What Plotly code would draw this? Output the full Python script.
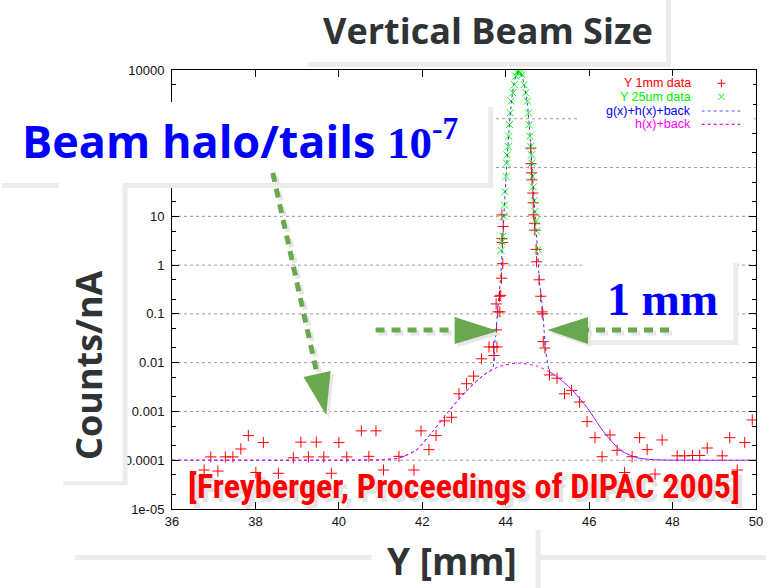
import plotly.graph_objects as go

# ---------------- data ----------------
# Y 1mm data (red +)
red_x = [36.77, 36.93, 37.10, 37.28, 37.46, 37.65, 37.83, 38.01, 38.19, 38.55,
         38.91, 39.09, 39.27, 39.46, 39.64, 39.82, 40.00, 40.19, 40.54, 40.72,
         40.89, 41.07, 41.44, 41.80, 41.97, 42.16, 42.33, 42.53, 42.70, 42.88,
         43.06, 43.23, 43.42, 43.60, 43.72, 43.71, 43.79, 43.78, 43.77, 43.81,
         43.86, 43.85, 43.88, 43.90, 43.93, 43.92, 43.91, 43.94, 43.91,
         44.60, 44.61, 44.62, 44.63, 44.65, 44.66, 44.67, 44.69, 44.70, 44.73,
         44.74, 44.80, 44.84, 44.87, 44.89, 44.90, 44.94, 45.05, 45.23, 45.41,
         45.58, 45.77, 45.95, 46.14, 46.31, 46.50, 46.67, 46.85, 47.03, 47.21,
         47.39, 47.58, 47.75, 48.11, 48.29, 48.48, 48.65, 48.83, 49.19, 49.37,
         49.55, 49.73, 49.91]
red_y = [6.3e-5, 1.17e-4, 6.0e-5, 1.17e-4, 1.17e-4, 1.7e-4, 3.2e-4, 5.6e-5, 2.3e-4, 5.4e-5,
         1.12e-4, 2.35e-4, 1.17e-4, 2.35e-4, 1.17e-4, 5.4e-5, 2.3e-4, 1.17e-4, 4.0e-4, 1.2e-4,
         4.0e-4, 6.3e-5, 1.2e-4, 6.3e-5, 4.0e-4, 1.65e-4, 3.2e-4, 6.4e-4, 7.6e-4, 2.3e-3,
         3.7e-3, 5.3e-3, 1.2e-2, 2.1e-2, 1.4e-2, 2.1e-2, 2.1e-2, 4.7e-2, 0.16, 0.11,
         0.11, 0.23, 0.24, 0.54, 1.07, 2.9, 3.5, 6.2, 10.7,
         250, 120, 78, 56, 30, 19, 10.7, 7.2, 5.2, 2.1,
         1.17, 0.5, 0.23, 0.11, 0.10, 0.027, 0.020, 5.6e-3, 4.8e-3, 2.3e-3,
         2.7e-3, 1.56e-3, 6.2e-4, 2.9e-4, 1.18e-4, 3.3e-4, 1.6e-4, 5.6e-5, 1.18e-4, 2.9e-4,
         1.65e-4, 5.2e-5, 2.6e-4, 1.23e-4, 1.23e-4, 1.25e-4, 1.25e-4, 1.78e-4, 1.23e-4, 2.9e-4,
         6.3e-5, 2.3e-4, 6.7e-4]

# Y 25um data (green x)
green_x = [43.89, 43.91, 43.93, 43.95, 43.97, 43.98, 44.01, 44.02, 44.03, 44.06,
           44.07, 44.09, 44.11, 44.13, 44.17, 44.21, 44.24, 44.27, 44.30, 44.33,
           44.36, 44.39, 44.44, 44.48, 44.52, 44.545, 44.56, 44.58, 44.60, 44.62,
           44.625, 44.64, 44.66, 44.68, 44.70, 44.72, 44.74, 44.78]
green_y = [2.0, 3.0, 3.9, 10, 17, 32, 66, 123, 182, 270,
           440, 760, 1320, 2300, 3400, 5000, 7500, 9000, 9500, 9200,
           8800, 8000, 5000, 3400, 2300, 1320, 760, 440, 270, 182,
           123, 66, 40, 21, 12.5, 8, 5, 2.1]

# g(x)+h(x)+back (blue dotted)
blue_x = [36.0, 40.0, 41.0, 41.45, 41.85, 42.25, 42.65, 43.05, 43.45, 43.69,
          43.73, 43.77, 43.80, 43.84, 43.88, 43.92, 43.96, 44.00, 44.05, 44.10,
          44.16, 44.22, 44.31, 44.40, 44.46, 44.52, 44.58, 44.64, 44.70, 44.76,
          44.81, 44.86, 44.89, 44.92, 44.96, 45.05, 45.15, 45.55, 45.95, 46.35,
          46.75, 47.15, 47.6, 48.5, 50.0]
blue_y = [1.0e-4, 1.0e-4, 1.02e-4, 1.12e-4, 1.6e-4, 3.9e-4, 1.05e-3, 2.6e-3, 5.4e-3, 7.8e-3,
          0.021, 0.047, 0.10, 0.25, 0.6, 2.5, 12, 50, 250, 1000,
          3200, 6500, 9300, 7000, 4200, 2000, 500, 80, 12, 2.2,
          0.45, 0.2, 0.10, 0.047, 0.018, 6.6e-3, 5.8e-3, 3.0e-3, 1.2e-3, 3.8e-4,
          1.6e-4, 1.12e-4, 1.02e-4, 1.0e-4, 1.0e-4]

# h(x)+back (magenta dotted)
mag_x = [36.0, 40.0, 41.0, 41.45, 41.85, 42.25, 42.65, 43.05, 43.45, 43.85,
         44.3, 44.75, 45.15, 45.55, 45.95, 46.35, 46.75, 47.15, 47.6, 48.5, 50.0]
mag_y = [1.0e-4, 1.0e-4, 1.02e-4, 1.12e-4, 1.6e-4, 3.9e-4, 1.05e-3, 2.6e-3, 5.4e-3, 8.4e-3,
         9.8e-3, 8.5e-3, 5.8e-3, 3.0e-3, 1.2e-3, 3.8e-4, 1.6e-4, 1.12e-4, 1.02e-4, 1.0e-4, 1.0e-4]

y_tickvals = [1e-5, 1e-4, 1e-3, 1e-2, 1e-1, 1, 10, 10000]
y_ticktext = ["1e-05", "0.0001", "0.001", "0.01", "0.1", "1", "10", "10000"]
y_gridvals = [1e-4, 1e-3, 1e-2, 1e-1, 1, 10, 100, 1000]
y_minor = [m * 10.0 ** e for e in range(-5, 4) for m in (2, 5)]
x_tickvals = [36, 38, 40, 42, 44, 46, 48, 50]

legend_labels = ["Y 1mm data", "Y 25um data", "g(x)+h(x)+back", "h(x)+back"]
legend_colors = ["#ff0000", "#00ee00", "#0000ff", "#ff00ff"]

# ---------------- layout helpers ----------------
W, H = 773, 588
PL, PR, PT, PB = 172, 763, 70, 509


def X(px):
    return (px - PL) / (PR - PL)


def Y(py):
    return (PB - py) / (PB - PT)


fig = go.Figure()
# dotted horizontal grid at the decades
for gv in y_gridvals:
    fig.add_shape(type="line", xref="paper", yref="y", x0=0, x1=1, y0=gv, y1=gv,
                  line=dict(color="#9a9a9a", width=1, dash="dot"), layer="below")

fig.add_trace(go.Scatter(x=red_x, y=red_y, mode="markers", name="Y 1mm data",
                         marker=dict(symbol="cross-thin", size=8, color="#ff0000",
                                     line=dict(color="#ff0000", width=1))))
fig.add_trace(go.Scatter(x=green_x, y=green_y, mode="markers", name="Y 25um data",
                         marker=dict(symbol="x-thin", size=7, color="#00ff00",
                                     line=dict(color="#00ff00", width=1))))
fig.add_trace(go.Scatter(x=blue_x, y=blue_y, mode="lines", name="g(x)+h(x)+back",
                         line=dict(color="#3030ff", width=1, dash="dot", shape="spline", smoothing=0.6)))
fig.add_trace(go.Scatter(x=mag_x, y=mag_y, mode="lines", name="h(x)+back",
                         line=dict(color="#ff00ff", width=1, dash="dot", shape="spline", smoothing=0.6)))

shapes = list(fig.layout.shapes)
annotations = []
SH = "#ececec"
GREEN = "#6aa84f"


def rect(x0, y0, x1, y1, color):
    shapes.append(dict(type="rect", xref="paper", yref="paper", x0=X(x0), x1=X(x1),
                       y0=Y(y1), y1=Y(y0), fillcolor=color, line=dict(width=0), layer="above"))


def seg(x0, y0, x1, y1, color, width=1, dash="solid"):
    shapes.append(dict(type="line", xref="paper", yref="paper", x0=X(x0), x1=X(x1),
                       y0=Y(y0), y1=Y(y1), line=dict(color=color, width=width, dash=dash),
                       layer="above"))


def tri(pts, color):
    p = "M " + " L ".join(f"{X(a):.5f},{Y(b):.5f}" for a, b in pts) + " Z"
    shapes.append(dict(type="path", xref="paper", yref="paper", path=p,
                       fillcolor=color, line=dict(width=0), layer="above"))


# legend background
rect(582, 76, 760, 131, "white")

# title box shadow
rect(310, 62, 677, 67, SH)
rect(672, 0, 677, 67, SH)

# Y [mm] box
rect(74, 555, 773, 560, SH)
rect(374, 528, 540, 588, "white")
rect(540, 530, 545, 588, SH)

# Counts/nA box
rect(0, 186, 122, 481, "white")
rect(122, 177, 127, 485, SH)
rect(62, 481, 127, 485, SH)

# halo box
rect(0, 102, 492, 183, "white")
rect(492, 107, 497, 188, SH)
rect(123, 183, 497, 188, SH)
rect(0, 183, 57, 188, SH)

# 1 mm box
rect(587, 257, 740, 340, "white")
rect(740, 263, 745, 345, SH)
rect(595, 340, 745, 345, SH)

# arrows (shadows first)
DASH = "9px,7px"
for off, col in ((3, "#e6e6e6"), (0, GREEN)):
    seg(274 + off, 173 + off, 318.8 + off, 374 + off, col, 5, DASH)
    tri([(328 + off, 415 + off), (332.5 + off, 371 + off), (305.1 + off, 377 + off)], col)
    seg(378 + off, 330 + off, 458 + off, 330 + off, col, 5, DASH)
    tri([(502 + off, 331 + off), (458 + off, 317 + off), (458 + off, 344 + off)], col)
    seg(675 + off, 330 + off, 593 + off, 330 + off, col, 5, DASH)
    tri([(552 + off, 330 + off), (593 + off, 317 + off), (593 + off, 344 + off)], col)

# legend samples
ly = [83.3, 96.7, 111, 124.3]
seg(724, ly[0], 732, ly[0], "#ff0000", 1)
seg(728, ly[0] - 4, 728, ly[0] + 4, "#ff0000", 1)
seg(725, ly[1] - 3, 731, ly[1] + 3, "#00ff00", 1)
seg(725, ly[1] + 3, 731, ly[1] - 3, "#00ff00", 1)
seg(708, ly[2], 747, ly[2], "#5050ff", 1.2, "dot")
seg(708, ly[3], 747, ly[3], "#ff00ff", 1.2, "dot")


def text(px, py, s, size, color, family, **kw):
    annotations.append(dict(x=X(px), y=Y(py), xref="paper", yref="paper", text=s,
                            showarrow=False, font=dict(size=size, color=color, family=family), **kw))


for lab, col, yy in zip(legend_labels, legend_colors, ly):
    text(699, yy, lab, 12.5, col, "Liberation Sans, Arial", xanchor="right", yanchor="middle")

SANS = "Open Sans, Lato, sans-serif"
text(492, 30, "<b>Vertical Beam Size</b>", 36, "#2f3335", SANS, xanchor="center", yanchor="middle")
text(241, 141,
     "<b>Beam halo/tails <span style='font-family:Liberation Serif'>10<sup>-7</sup></span></b>",
     45, "#0000ff", SANS, xanchor="center", yanchor="middle")
text(668, 299, "<b>1 mm</b>", 46, "#0000ff", "Liberation Serif, serif", xanchor="center", yanchor="middle")
text(87, 365, "<b>Counts/nA</b>", 36, "#2f3335", SANS, xanchor="center", yanchor="middle", textangle=-90)
text(455, 560, "<b>Y [mm]</b>", 37, "#2f3335", SANS, xanchor="center", yanchor="middle")
FR = "<b>[Freyberger, Proceedings of DIPAC 2005]</b>"
FRF = "Liberation Sans Narrow, Roboto Condensed, Roboto"
text(472, 490, FR, 34, "#e4e4e4", FRF, xanchor="center", yanchor="middle")
text(468, 486, FR, 34, "#ff0000", FRF, xanchor="center", yanchor="middle")

fig.update_layout(
    width=W, height=H,
    margin=dict(l=PL, r=W - PR, t=PT, b=H - PB),
    paper_bgcolor="white", plot_bgcolor="white",
    showlegend=False,
    shapes=shapes, annotations=annotations,
    font=dict(family="Liberation Sans, Arial", size=13, color="#111111"),
)
fig.update_xaxes(range=[36, 50], tickvals=x_tickvals, ticks="inside", ticklen=7,
                 tickcolor="black", showline=True, linecolor="black", linewidth=1,
                 mirror="ticks", showgrid=False, zeroline=False,
                 tickfont=dict(size=13, family="Liberation Sans, Arial", color="#111"))
fig.update_yaxes(type="log", range=[-5, 4], tickvals=y_tickvals, ticktext=y_ticktext,
                 ticks="inside", ticklen=7, tickcolor="black", showline=True,
                 linecolor="black", linewidth=1, mirror="ticks",
                 showgrid=False, zeroline=False, ticklabelstandoff=4,
                 tickfont=dict(size=13, family="Liberation Sans, Arial", color="#111"),
                 minor=dict(tickvals=y_minor, ticks="inside", ticklen=4, tickcolor="black",
                            showgrid=False))

fig.write_html("out.html")
